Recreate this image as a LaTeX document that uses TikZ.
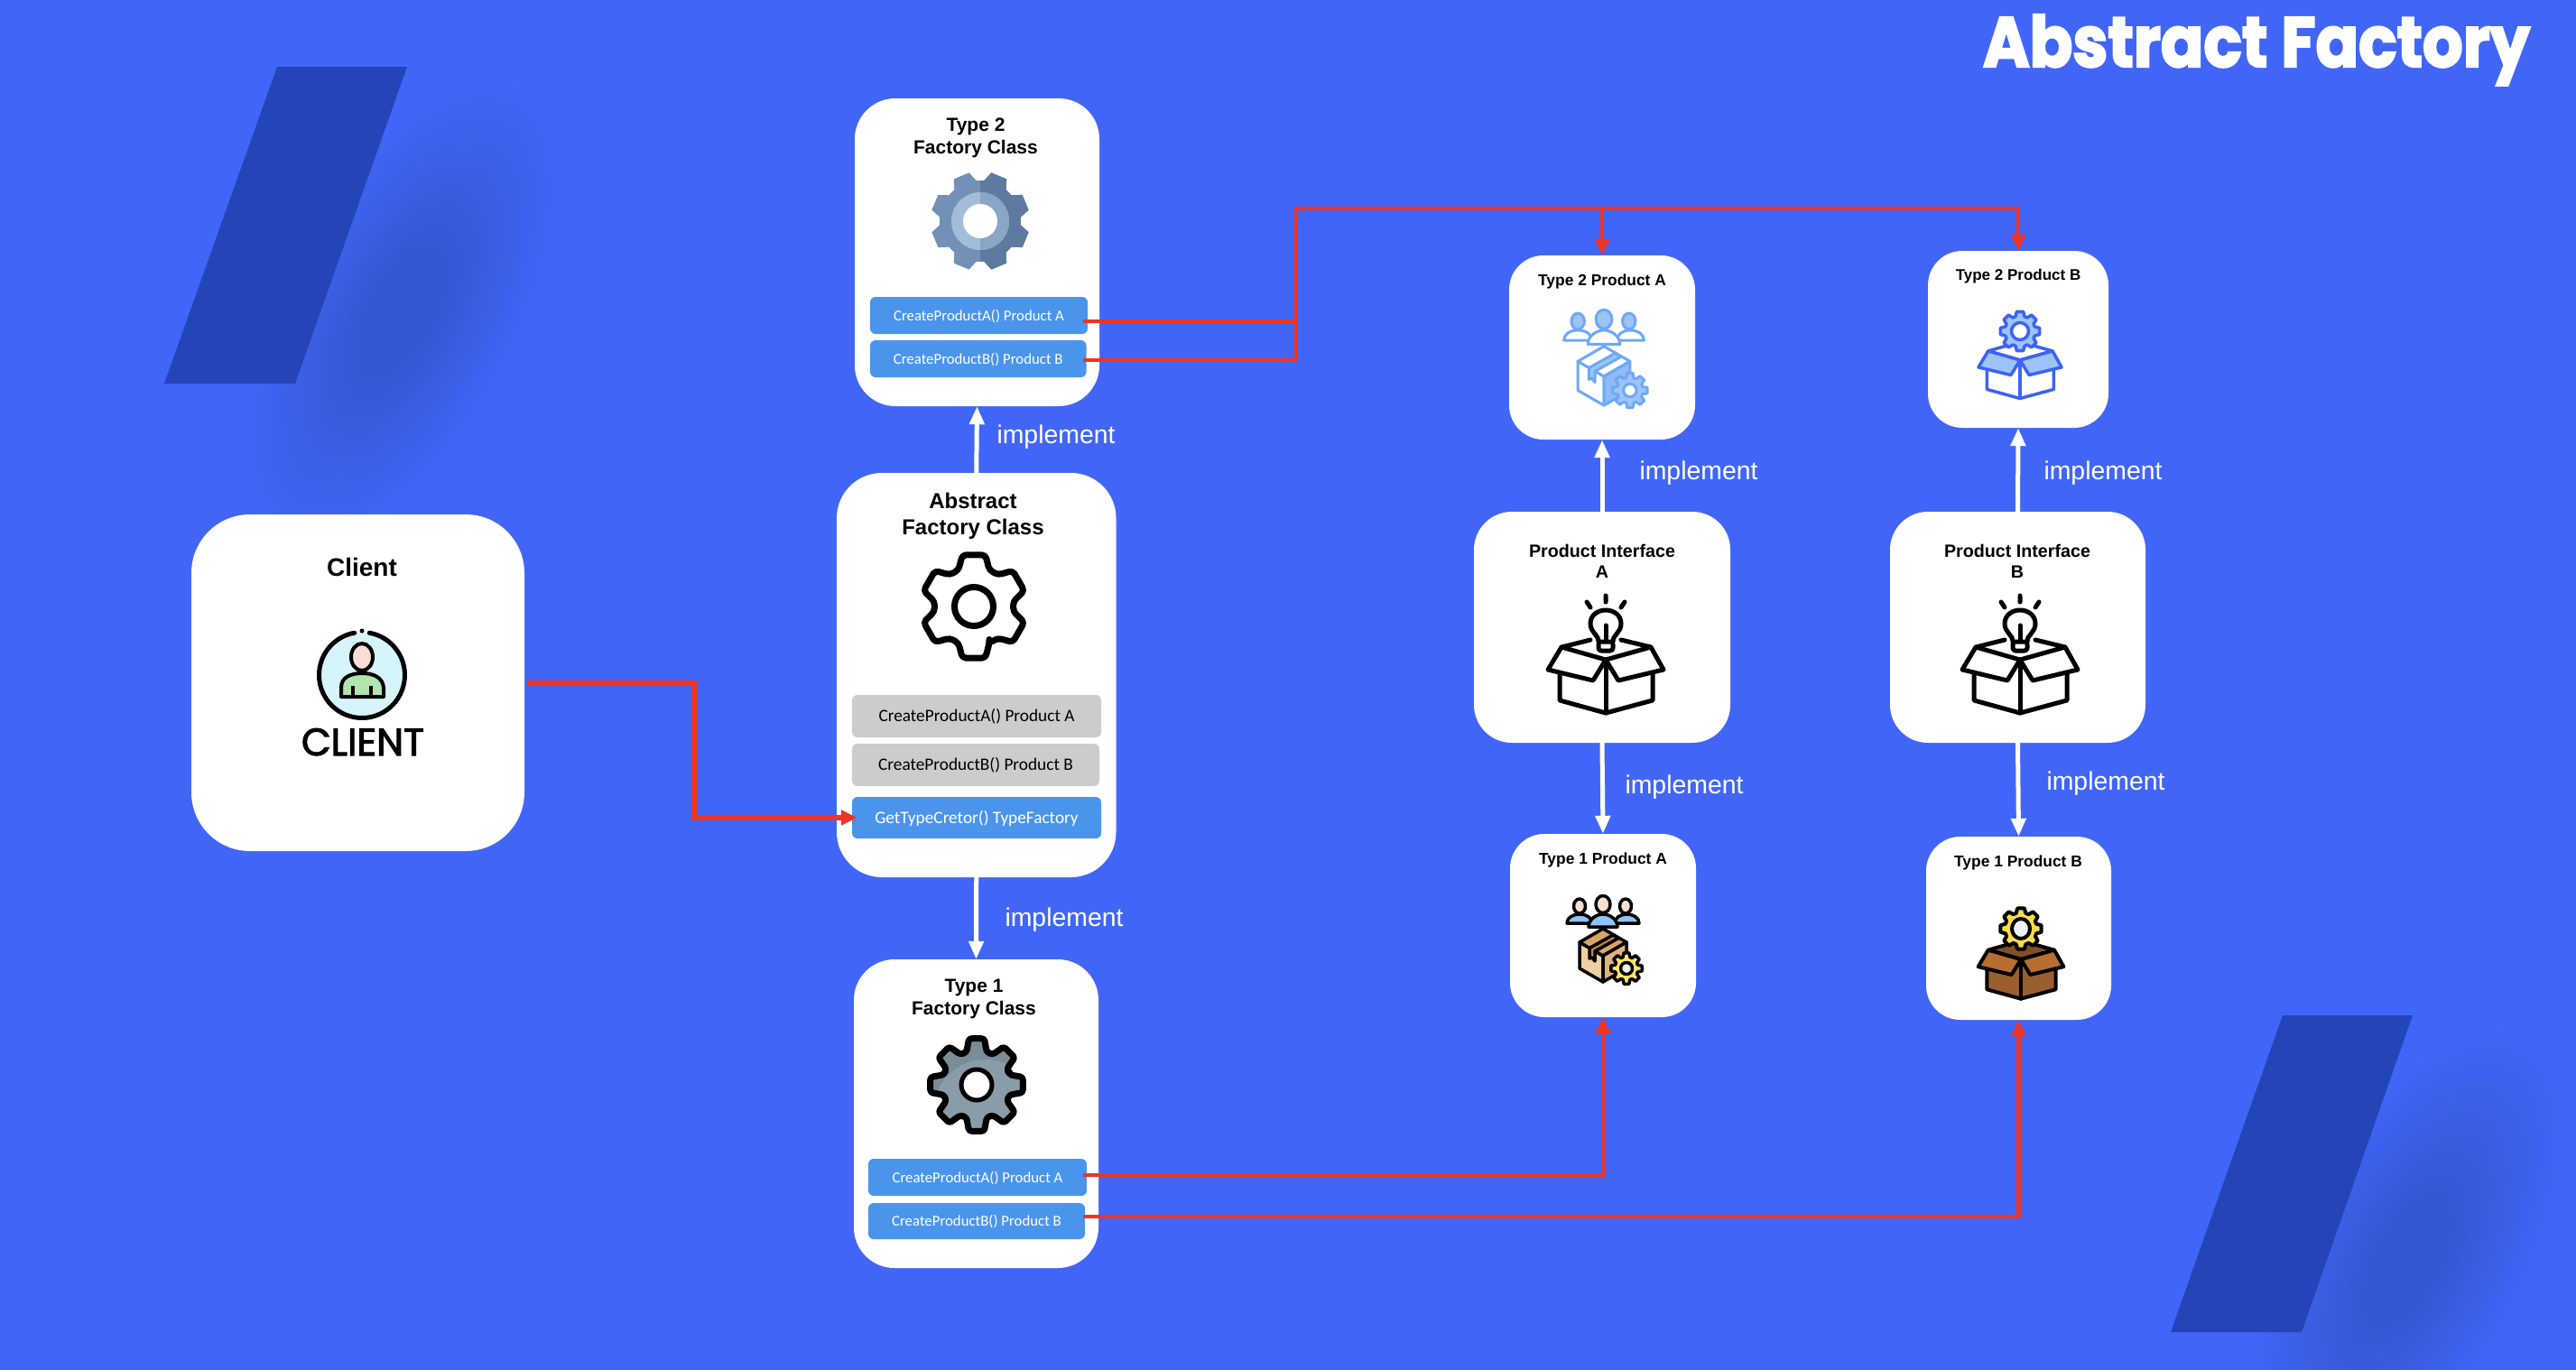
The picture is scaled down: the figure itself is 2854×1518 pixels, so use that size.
\documentclass[tikz,border=0pt]{standalone}
\usepackage{fontspec}
\usetikzlibrary{arrows.meta,calc}
\setmainfont{Liberation Sans}
\newfontfamily\bodyfont{Carlito}
\newfontfamily\titlefont[BoldFeatures={FakeBold=3}]{Poppins}
\newfontfamily\clientfont[FakeBold=2.5]{Poppins}
\definecolor{bgblue}{HTML}{4166F7}
\definecolor{slant}{HTML}{2445B7}
\definecolor{blobdark}{HTML}{3556D3}
\definecolor{blobmid}{HTML}{3A5DE2}
\definecolor{methodblue}{HTML}{4A94EC}
\definecolor{methodgray}{HTML}{CDCBCD}
\definecolor{linkred}{HTML}{EE3424}
\definecolor{T1stroke}{HTML}{000000}
\definecolor{T1head}{HTML}{F8DFD0}
\definecolor{T1body}{HTML}{8FC4F8}
\definecolor{T1front}{HTML}{EECF9F}
\definecolor{T1top}{HTML}{D9A566}
\definecolor{T1right}{HTML}{E0B47C}
\definecolor{T1tape}{HTML}{B98448}
\definecolor{T1gear}{HTML}{FFE56E}
\definecolor{T1hole}{HTML}{EEF2F5}
\definecolor{T2stroke}{HTML}{6EA8F8}
\definecolor{T2head}{HTML}{9CC4F9}
\definecolor{T2body}{HTML}{FFFFFF}
\definecolor{T2front}{HTML}{FFFFFF}
\definecolor{T2top}{HTML}{FFFFFF}
\definecolor{T2right}{HTML}{8FBBF8}
\definecolor{T2tape}{HTML}{9CC4F9}
\definecolor{T2gear}{HTML}{9CC4F9}
\definecolor{T2hole}{HTML}{FFFFFF}
\definecolor{T2left}{HTML}{7390B6}
\definecolor{T2dark}{HTML}{5F7AA0}
\definecolor{T2ringleft}{HTML}{A3BDD8}
\definecolor{T2ringright}{HTML}{89A6C6}
\definecolor{G1dark}{HTML}{7A8C98}
\definecolor{G1light}{HTML}{8A9CA8}
\definecolor{BoxB}{HTML}{3E62F5}
\definecolor{Brown1}{HTML}{9A5E2E}
\definecolor{Brown2}{HTML}{B86E30}
\definecolor{Brown3}{HTML}{7E4F28}
\definecolor{GearY}{HTML}{FADC4B}
\definecolor{ClientSky}{HTML}{D5F5FB}
\definecolor{ClientGreen}{HTML}{B0E5AE}
\definecolor{ClientSkin}{HTML}{F9DDD6}
\pgfdeclareradialshading{blob}{\pgfpoint{0bp}{0bp}}{color(0bp)=(blobdark);color(6bp)=(blobdark);color(14bp)=(blobmid);color(25bp)=(bgblue);color(50bp)=(bgblue)}
\newcommand{\gearcore}[5][]{%
  \pgfmathsetmacro\gstep{360/#2}%
  \pgfmathsetmacro\gtip{0.21*\gstep}%
  \pgfmathsetmacro\groot{0.38*\gstep}%
  \path[#1] ({#5-\groot}:#4)
    \foreach \gi in {1,...,#2}{
      -- ({#5+(\gi-1)*\gstep-\gtip}:#3) -- ({#5+(\gi-1)*\gstep+\gtip}:#3)
      -- ({#5+(\gi-1)*\gstep+\groot}:#4) -- ({#5+\gi*\gstep-\groot}:#4)
    } -- cycle;
}
\newcommand{\gear}[7][]{%
  \begin{scope}[shift={(#2,#3)},line join=round]
    \gearcore[#1]{#4}{#5}{#6}{#7}
  \end{scope}}
% cx cy scale linewidth stroke body flap
\newcommand{\boxback}[6]{%
  \begin{scope}[shift={(#1,#2)},scale=#3,line join=round,line width=#4]
    \filldraw[draw=#5,fill=#6] (-49,-14)--(0,-28)--(50,-14)--(0,0)--cycle;
  \end{scope}}
\newcommand{\boxfront}[7]{%
  \begin{scope}[shift={(#1,#2)},scale=#3,line join=round,line cap=round,line width=#4]
    \filldraw[draw=#5,fill=#6] (-51,14)--(-51,45)--(0,59)--(52,45)--(52,14)--(0,0)--cycle;
    \draw[draw=#5] (0,0)--(0,59);
    \filldraw[draw=#5,fill=#7] (-49,-14)--(-64,11)--(-14,23)--(0,0)--cycle;
    \filldraw[draw=#5,fill=#7] (50,-14)--(64,11)--(14,23)--(0,0)--cycle;
  \end{scope}}
\newcommand{\bulbbox}[2]{%
  \begin{scope}[shift={(#1,#2)},line join=round,line cap=round,line width=5pt]
    \draw (-49,-14)--(-17,-22) (50,-14)--(17,-22);
    \draw (0,-71)--(0,-64) (-21,-64)--(-17,-58) (21,-64)--(17,-58);
    \draw (-8,-20) .. controls (-8,-28) and (-17,-30) .. (-17,-40)
      .. controls (-17,-50) and (-8,-55) .. (0,-55)
      .. controls (8,-55) and (17,-50) .. (17,-40)
      .. controls (17,-30) and (8,-28) .. (8,-20);
    \draw[rounded corners=3pt] (-8,-20) rectangle (8,-10);
    \draw (0,-38)--(0,-21);
  \end{scope}
  \boxfront{#1}{#2}{1}{5pt}{black}{white}{white}}
% cx cy scale linewidth colourprefix
\newcommand{\usersparcel}[5]{%
  \begin{scope}[shift={(#1,#2)},scale=#3,line join=round,line width=#4,draw=#5stroke]
    \filldraw[fill=#5body] (-40,-36) .. controls (-40,-42) and (-34,-46) .. (-26,-46) .. controls (-18,-46) and (-12,-42) .. (-12,-36) -- cycle;
    \filldraw[fill=#5body] (13,-36) .. controls (13,-42) and (19,-46) .. (26,-46) .. controls (34,-46) and (40,-42) .. (40,-36) -- cycle;
    \filldraw[fill=#5head] (-26,-55) ellipse [x radius=6.5,y radius=8];
    \filldraw[fill=#5head] (25,-55) ellipse [x radius=6.5,y radius=8];
    \filldraw[fill=#5body] (-16,-32) .. controls (-16,-40) and (-8,-46) .. (0,-46) .. controls (8,-46) and (16,-40) .. (16,-32) -- cycle;
    \filldraw[fill=#5head] (0,-57) ellipse [x radius=8,y radius=9.5];
    \filldraw[fill=#5front] (-26,-15)--(0,0)--(0,29)--(-26,14)--cycle;
    \filldraw[fill=#5top] (0,-30)--(-26,-15)--(0,0)--(26,-15)--cycle;
    \filldraw[fill=#5right] (0,0)--(26,-15)--(26,14)--(0,29)--cycle;
    \filldraw[fill=#5tape] (-15,-8.5)--(11,-23)--(17,-19.5)--(-9,-5)--(-9,6)--(-12,2)--(-15,3)--cycle;
    \gear[draw=#5stroke,fill=#5gear,line width=#4]{26}{14}{8}{17.5}{13}{0}
    \filldraw[fill=#5hole] (26,14) circle [radius=6.5];
  \end{scope}}
\tikzset{
  x=1pt,y=-1pt,
  cardbox/.style={fill=white,inner sep=0pt,rounded corners=#1},
  cardbox/.default=40pt,
  methodbox/.style={fill=#1,inner sep=0pt,rounded corners=6pt,text=white,text height=14pt,text depth=2.4pt,font=\fontsize{16.8}{20}\selectfont\bodyfont},
  bigmethod/.style={fill=#1,inner sep=0pt,rounded corners=6pt,text height=15pt,text depth=2.4pt,font=\fontsize{19.3}{23}\selectfont\bodyfont},
  boldlabel/.style 2 args={align=center,inner sep=0pt,font=\fontsize{#1}{#2}\selectfont\bfseries},
  implabel/.style={text=white,inner sep=0pt,font=\fontsize{28.4}{32}\selectfont},
  whitelink/.style={draw=white,line width=5pt,-{Triangle[length=20pt,width=16pt]}},
  redline/.style={draw=linkred,line width=4.5pt,line join=miter},
  redlink/.style={redline,-{Triangle[length=18pt,width=16pt]}},
}
\begin{document}
\begin{tikzpicture}
\useasboundingbox (0,0) rectangle (2854,1518);
\fill[bgblue] (0,0) rectangle (2854,1518);
% soft shadows and slanted bars
\begin{scope}[transform canvas={shift={(445,345)},rotate=62}]
  \shade[shading=blob] (0,0) ellipse [x radius=290,y radius=135];
\end{scope}
\begin{scope}[transform canvas={shift={(2667,1396)},rotate=62}]
  \shade[shading=blob] (0,0) ellipse [x radius=290,y radius=135];
\end{scope}
\fill[slant] (307,74)--(451,74)--(327,425)--(182,425)--cycle;
\fill[slant] (2529,1125)--(2673,1125)--(2550,1476)--(2405,1476)--cycle;
% title
\node[anchor=base,inner sep=0pt,text=white] (title) at (2500,74) {\resizebox{606pt}{58pt}{\titlefont\bfseries Abstract Factory}};
% cards
\node[cardbox=65pt,minimum width=369pt,minimum height=373pt] (client) at (396.5,756.5) {};
\node[cardbox=50pt,minimum width=309.5pt,minimum height=448pt] (abs) at (1081.75,748) {};
\node[cardbox=45pt,minimum width=271pt,minimum height=341pt] (t2) at (1082.5,279.5) {};
\node[cardbox=45pt,minimum width=271pt,minimum height=342pt] (t1) at (1081.5,1234) {};
\node[cardbox=38pt,minimum width=206pt,minimum height=204pt] (t2a) at (1775,385) {};
\node[cardbox=38pt,minimum width=200pt,minimum height=196pt] (t2b) at (2236,376) {};
\node[cardbox=42pt,minimum width=284pt,minimum height=256pt] (ia) at (1775,695) {};
\node[cardbox=42pt,minimum width=283pt,minimum height=256pt] (ib) at (2235.5,695) {};
\node[cardbox=38pt,minimum width=206pt,minimum height=203pt] (t1a) at (1776,1025.5) {};
\node[cardbox=38pt,minimum width=205pt,minimum height=203pt] (t1b) at (2236.5,1028.5) {};
% card titles
\node[boldlabel={28}{32}] (clientt) at (401,628) {Client};
\node[boldlabel={24}{29}] (abst) at (1078,572) {Abstract\\Factory Class};
\node[boldlabel={21}{25}] (t2t) at (1081,153) {Type 2\\Factory Class};
\node[boldlabel={21}{25}] (t1t) at (1079,1107) {Type 1\\Factory Class};
\node[boldlabel={17.4}{20}] (t2at) at (1775,312) {Type 2 Product A};
\node[boldlabel={17}{20}] (t2bt) at (2236,306) {Type 2 Product B};
\node[boldlabel={19.7}{23}] (iat) at (1775,622) {Product Interface\\A};
\node[boldlabel={19.7}{23}] (ibt) at (2235,622) {Product Interface\\B};
\node[boldlabel={17.4}{20}] (t1at) at (1776,953) {Type 1 Product A};
\node[boldlabel={17.4}{20}] (t1bt) at (2236,956) {Type 1 Product B};
% method boxes
\node[methodbox=methodblue,minimum width=241pt,minimum height=41pt] (m2a) at (1084.5,349.5) {CreateProductA() Product A};
\node[methodbox=methodblue,minimum width=239.5pt,minimum height=41pt] (m2b) at (1083.75,397.5) {CreateProductB() Product B};
\node[methodbox=methodblue,minimum width=242pt,minimum height=41pt] (m1a) at (1083,1304.5) {CreateProductA() Product A};
\node[methodbox=methodblue,minimum width=240pt,minimum height=40pt] (m1b) at (1082,1353) {CreateProductB() Product B};
\node[bigmethod=methodgray,minimum width=276pt,minimum height=47pt] (ma) at (1082,793.5) {CreateProductA() Product A};
\node[bigmethod=methodgray,minimum width=274pt,minimum height=47pt] (mb) at (1081,847.5) {CreateProductB() Product B};
\node[bigmethod=methodblue,text=white,minimum width=276pt,minimum height=46pt] (mg) at (1082,906) {GetTypeCretor() TypeFactory};
% white implement links
\draw[whitelink] (abs.north) -- (t2.south);
\draw[whitelink] (abs.south) -- (t1.north);
\draw[whitelink] (ia.north) -- (t2a.south);
\draw[whitelink] (ib.north) -- (t2b.south);
\draw[whitelink] (ia.south) -- (t1a.north);
\draw[whitelink] (ib.south) -- (t1b.north);
\node[implabel] (l1) at (1170,484.5) {implement};
\node[implabel] (l2) at (1179,1019.5) {implement};
\node[implabel] (l3) at (1882,524.5) {implement};
\node[implabel] (l4) at (2330,524.5) {implement};
\node[implabel] (l5) at (1866,872.5) {implement};
\node[implabel] (l6) at (2333,868.5) {implement};
% red links
\coordinate (bus) at (1436,231);
\coordinate (s2a) at ($(m2a.east)+(-5,6.5)$);
\coordinate (s2b) at ($(m2b.east)+(-4,1.5)$);
\coordinate (s1a) at ($(m1a.east)+(-4,-2.5)$);
\coordinate (s1b) at ($(m1b.east)+(-2,-5)$);
\coordinate (cs) at ($(client.east)+(4,0.5)$);
\coordinate (cb) at (769,757);
\draw[redlink,line width=5.5pt] (cs) -- (cb) |- ([xshift=6pt]mg.west);
\draw[redline] (s2a) -- (s2a -| bus);
\draw[redline] (s2b) -| (bus);
\draw[redlink] (bus) -| (t2a.north);
\draw[redlink] (bus) -| (t2b.north);
\draw[redlink] (s1a) -| (t1a.south);
\draw[redlink] (s1b) -| (t1b.south);
% client icon
\begin{scope}[shift={(401,748)},line width=5pt]
  \fill[fill=ClientSky] (0,0) circle [radius=47.5];
  \draw[line cap=round] (-80:47.5) arc [start angle=-80,end angle=260,radius=47.5];
  \fill (-90:49) circle [radius=2.5];
  \filldraw[fill=ClientGreen,line width=4pt,line join=round] (-23,24) -- (-23,14) .. controls (-23,2) and (-12,-2) .. (0,-2) .. controls (12,-2) and (23,2) .. (24,14) -- (24,24) -- cycle;
  \filldraw[fill=ClientSkin,line width=4pt] (0,-20) ellipse [x radius=12,y radius=15];
  \draw[line width=3.5pt] (-10,12)--(-10,24) (10,12)--(10,24);
\end{scope}
\node[anchor=base,inner sep=0pt] (clienticon) at (402,837) {\resizebox{136pt}{30pt}{\clientfont CLIENT}};
% abstract gear
\gear[draw=black,fill=white,line width=7pt,rounded corners=4pt]{1079}{672}{6}{58.5}{44}{90}
\draw[line width=7pt] (1079,672) circle [radius=21.5];
% type 2 gear
\gear[fill=T2left]{1086}{245}{8}{55}{45}{22.5}
\begin{scope}
  \clip (1086,150) rectangle (1160,340);
  \gear[fill=T2dark]{1086}{245}{8}{55}{45}{22.5}
\end{scope}
\fill[T2ringleft] (1086,245) circle [radius=32];
\begin{scope}
  \clip (1086,150) rectangle (1160,340);
  \fill[T2ringright] (1086,245) circle [radius=32];
\end{scope}
\fill[white] (1086,245) circle [radius=19];
% type 1 gear
\gear[fill=G1dark]{1082}{1202}{8}{52}{38}{0}
\begin{scope}[shift={(1082,1202)}]
  \gearcore[clip]{8}{52}{38}{0}
  \fill[G1light] (10,30) circle [radius=58];
\end{scope}
\gear[draw=black,line width=7pt,rounded corners=3pt]{1082}{1202}{8}{52}{38}{0}
\filldraw[fill=white,line width=5pt] (1082,1202) circle [radius=17];
% product icons
\bulbbox{1779}{731}
\bulbbox{2238}{731}
\usersparcel{1777}{417}{1.11}{3pt}{T2}
\usersparcel{1776}{1059}{1}{3.5pt}{T1}
\boxback{2238}{399}{.72}{3.5pt}{BoxB}{white}
\gear[draw=BoxB,fill=T2head,line width=3.5pt]{2238}{367}{8}{22}{17}{0}
\filldraw[draw=BoxB,fill=white,line width=3.5pt] (2238,367) circle [radius=9.5];
\boxfront{2238}{399}{.72}{3.5pt}{BoxB}{white}{T2head}
\boxback{2239}{1063}{.74}{4pt}{black}{Brown3}
\gear[draw=black,fill=GearY,line width=4pt]{2239}{1029}{8}{23}{18}{0}
\filldraw[fill=T1hole,line width=4pt] (2239,1029) ellipse [x radius=10,y radius=11];
\boxfront{2239}{1063}{.74}{4pt}{black}{Brown1}{Brown2}
\end{tikzpicture}
\end{document}
